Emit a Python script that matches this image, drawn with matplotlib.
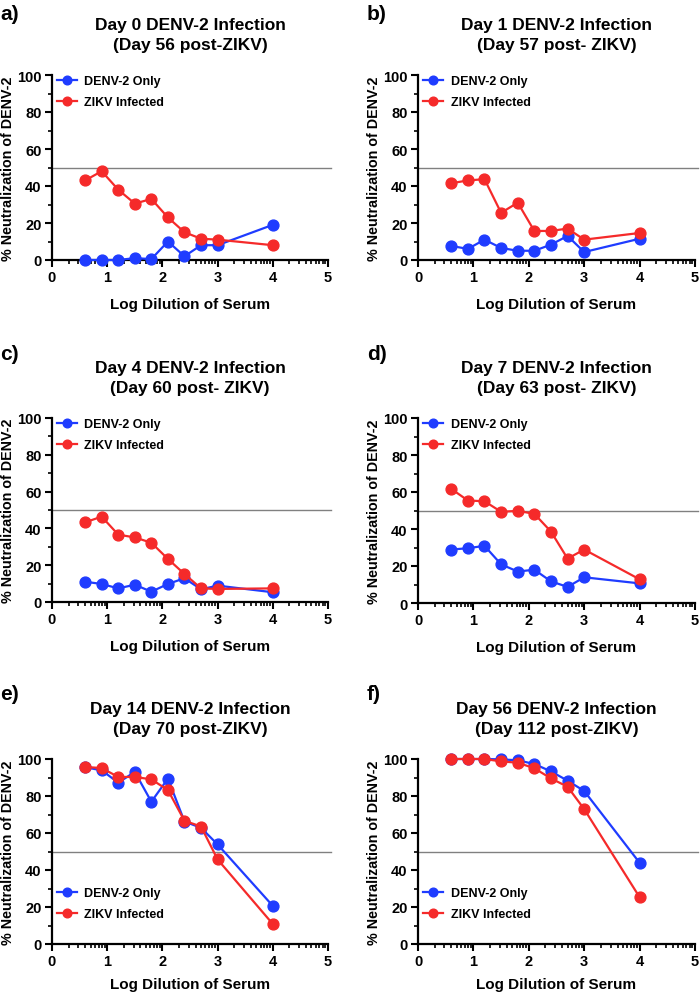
import matplotlib.pyplot as plt
import numpy as np

plt.rcParams['font.family'] = ['Liberation Sans', 'DejaVu Sans']
plt.rcParams['font.weight'] = 'bold'

# log dilution of serum (shared by all panels)
dilution = [0.6, 0.9, 1.2, 1.5, 1.8, 2.1, 2.4, 2.7, 3.0, 4.0]

panel_labels = ['a)', 'b)', 'c)', 'd)', 'e)', 'f)']
titles = [
    'Day 0 DENV-2 Infection\n(Day 56 post-ZIKV)',
    'Day 1 DENV-2 Infection\n(Day 57 post- ZIKV)',
    'Day 4 DENV-2 Infection\n(Day 60 post- ZIKV)',
    'Day 7 DENV-2 Infection\n(Day 63 post- ZIKV)',
    'Day 14 DENV-2 Infection\n(Day 70 post-ZIKV)',
    'Day 56 DENV-2 Infection\n(Day 112 post-ZIKV)',
]

denv_only = [
    [0, 0, 0, 1, 0.5, 10, 2, 8, 8, 19],
    [7.6, 6, 11, 6.5, 5, 5, 8.3, 13, 4.3, 11.5],
    [11, 9.8, 7.4, 9.4, 5.6, 9.8, 12.9, 6.9, 8.9, 5.3],
    [28.9, 29.6, 30.9, 20.9, 17, 18, 11.7, 8.7, 13.9, 10.6],
    [95.5, 93.9, 87.2, 93, 76.9, 89.4, 66.2, 62.8, 53.8, 20.6],
    [100, 100, 100, 99.8, 99.3, 97.3, 93.3, 88.3, 82.7, 43.9],
]
zikv_infected = [
    [43, 48, 38, 30.5, 33, 23, 15, 11.5, 11, 8],
    [41.5, 43, 43.7, 25.5, 31, 15.7, 15.7, 17, 11, 14.6],
    [43.3, 46.4, 36.6, 35.1, 32.2, 23.4, 15.2, 7.4, 7.1, 7.4],
    [61.7, 55.4, 55, 49.3, 49.8, 48.2, 38.6, 24, 28.9, 12.8],
    [95.7, 95.1, 90.3, 90.3, 89, 83.2, 66.6, 63.5, 45.7, 10.8],
    [100, 100, 100, 98.7, 98, 95, 89.5, 85, 72.9, 25.3],
]

BLUE = '#1f3cff'
RED = '#f52a2a'

W, H = 700, 995
fig = plt.figure(figsize=(7, 9.95), dpi=100)

# axes boxes in pixels: left, top, right, bottom
boxes = [
    (52, 76, 328, 261), (418, 76, 695, 261),
    (52, 419, 328, 603), (418, 419, 695, 604),
    (52, 760, 328, 945), (418, 760, 695, 945),
]
label_pos = [(0, 15), (367, 15), (0, 354), (367, 354), (0, 694), (367, 694)]

minor_x = [d + np.log10(k) for d in range(5) for k in range(2, 10)]

for i, (l, t, r, b) in enumerate(boxes):
    ax = fig.add_axes([l / W, 1 - b / H, (r - l) / W, (b - t) / H])
    ax.axhline(50, xmin=0, xmax=1.01, color='#808080', lw=1, clip_on=False, zorder=1)
    ax.plot(dilution, denv_only[i], '-o', color=BLUE, lw=1.6, ms=7.8,
            label='DENV-2 Only', zorder=3, clip_on=False)
    ax.plot(dilution, zikv_infected[i], '-o', color=RED, lw=1.6, ms=7.8,
            label='ZIKV Infected', zorder=4, clip_on=False)
    ax.set_xlim(0, 5)
    ax.set_ylim(0, 100)
    ax.set_xticks(range(6))
    ax.set_xticks(minor_x, minor=True)
    ax.set_yticks(range(0, 101, 20))
    ax.set_yticks(range(10, 100, 20), minor=True)
    for s in ['top', 'right']:
        ax.spines[s].set_visible(False)
    for s in ['left', 'bottom']:
        ax.spines[s].set_linewidth(1.6)
    ax.tick_params(which='major', length=5, width=1.5, labelsize=10.5, pad=2.5)
    ax.tick_params(which='minor', length=3, width=1.2)
    ax.set_xlabel('Log Dilution of Serum', fontsize=11, fontweight='bold',
                  labelpad=6 if i >= 4 else 9)
    ax.set_ylabel('% Neutralization of DENV-2', fontsize=10.3, fontweight='bold',
                  va='center')
    ax.yaxis.set_label_coords(-0.158, 0.5)
    ax.set_title(titles[i], fontsize=12.5, fontweight='bold', pad=19, linespacing=1.35)
    if i < 4:
        ax.legend(loc='upper left', bbox_to_anchor=(0.0, 1.027), frameon=False,
                  fontsize=9, markerscale=0.8, handlelength=1.6, handletextpad=0.6,
                  borderaxespad=0, labelspacing=0.75)
    else:
        ax.legend(loc='lower left', bbox_to_anchor=(0.0, 0.1), frameon=False,
                  fontsize=9, markerscale=0.8, handlelength=1.6, handletextpad=0.6,
                  borderaxespad=0, labelspacing=0.75)
    lx, ly = label_pos[i]
    fig.text(lx / W, 1 - ly / H, panel_labels[i], fontsize=15, fontweight='bold',
             va='center', ha='left')

fig.savefig('out.png', dpi=100)
